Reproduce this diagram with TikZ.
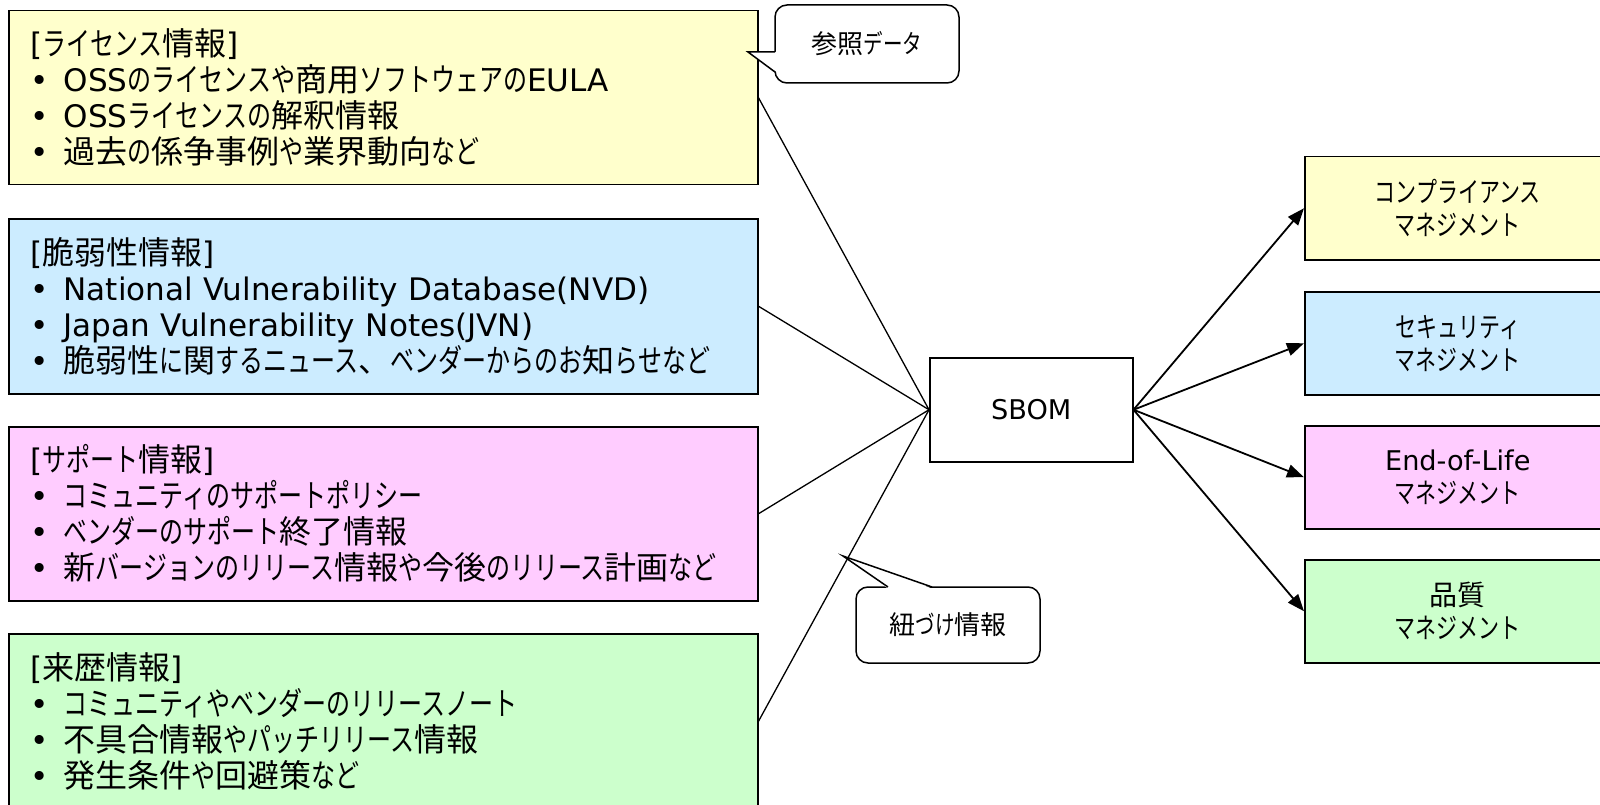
\documentclass[tikz,border=0pt]{standalone}
\usepackage{fontspec}
\setmainfont{Noto Sans CJK JP}
\newfontfamily\hanfont{Noto Sans CJK JP}
\newfontfamily\kanafont[FakeStretch=0.75]{Noto Sans CJK JP}
\newfontfamily\latfont[Scale=0.97]{DejaVu Sans}
\usetikzlibrary{arrows.meta}

% automatic font switching: Latin / kanji / kana
\newXeTeXintercharclass\HanClass
\newXeTeXintercharclass\KanaClass
\count255="3000
\loop \XeTeXcharclass\count255=\HanClass
  \ifnum\count255<"303F \advance\count255 by 1 \repeat
\count255="4E00
\loop \XeTeXcharclass\count255=\HanClass
  \ifnum\count255<"9FFF \advance\count255 by 1 \repeat
\count255="FF00
\loop \XeTeXcharclass\count255=\HanClass
  \ifnum\count255<"FFEF \advance\count255 by 1 \repeat
\count255="3040
\loop \XeTeXcharclass\count255=\KanaClass
  \ifnum\count255<"30FF \advance\count255 by 1 \repeat
\XeTeXinterchartoks 0 \HanClass = {\hanfont}
\XeTeXinterchartoks 4095 \HanClass = {\hanfont}
\XeTeXinterchartoks \KanaClass \HanClass = {\hanfont}
\XeTeXinterchartoks 0 \KanaClass = {\kanafont}
\XeTeXinterchartoks 4095 \KanaClass = {\kanafont}
\XeTeXinterchartoks \HanClass \KanaClass = {\kanafont}
\XeTeXinterchartoks \HanClass 0 = {\latfont}
\XeTeXinterchartoks \KanaClass 0 = {\latfont}
\XeTeXinterchartoks 4095 0 = {\latfont}

\definecolor{licfill}{HTML}{FFFFCC}
\definecolor{vulfill}{HTML}{CCECFF}
\definecolor{supfill}{HTML}{FFCCFF}
\definecolor{hisfill}{HTML}{CCFFCC}

% bullet item with a fixed indent
\newcommand{\itm}[1]{\makebox[33pt][l]{•}#1}

\begin{document}
\XeTeXinterchartokenstate=1
\begin{tikzpicture}[x=1pt,y=-1pt,
  infobox/.style={draw, line width=1.5pt, anchor=north west,
    text width=705pt, minimum width=749pt, inner xsep=22pt, inner ysep=0pt,
    align=left, font=\fontsize{32pt}{36pt}\selectfont},
  mgmtbox/.style={draw, line width=1.5pt, anchor=north west,
    minimum width=306pt, minimum height=103pt, align=center,
    font=\fontsize{28pt}{33pt}\selectfont},
  sbombox/.style={draw, line width=1.5pt, fill=white, anchor=north west,
    minimum width=203pt, minimum height=104pt, font=\fontsize{28pt}{33pt}\selectfont},
  callout/.style={draw, line width=1.5pt, fill=white, rounded corners=12pt,
    minimum width=184pt, font=\fontsize{26pt}{30pt}\selectfont},
  link/.style={line width=1.3pt},
  flow/.style={line width=1.8pt, -{Triangle[length=17pt,width=13pt]}}
]
\useasboundingbox (0,0) rectangle (1600,805);
\clip (0,0) rectangle (1600,805);

% information sources
\node[infobox, fill=licfill, minimum height=174pt] (lic) at (8,10)
  {[ライセンス情報]\\
   \itm{OSSのライセンスや商用ソフトウェアのEULA}\\
   \itm{OSSライセンスの解釈情報}\\
   \itm{過去の係争事例や業界動向など}};
\node[infobox, fill=vulfill, minimum height=175pt] (vul) at (8,218)
  {[脆弱性情報]\\
   \itm{National Vulnerability Database(NVD)}\\
   \itm{Japan Vulnerability Notes(JVN)}\\
   \itm{脆弱性に関するニュース、ベンダーからのお知らせなど}};
\node[infobox, fill=supfill, minimum height=174pt] (sup) at (8,426)
  {[サポート情報]\\
   \itm{コミュニティのサポートポリシー}\\
   \itm{ベンダーのサポート終了情報}\\
   \itm{新バージョンのリリース情報や今後のリリース計画など}};
\node[infobox, fill=hisfill, minimum height=175pt] (his) at (8,633)
  {[来歴情報]\\
   \itm{コミュニティやベンダーのリリースノート}\\
   \itm{不具合情報やパッチリリース情報}\\
   \itm{発生条件や回避策など}};

% management areas
\node[mgmtbox, fill=licfill] (cmp) at (1304,156) {コンプライアンス\\マネジメント};
\node[mgmtbox, fill=vulfill] (sec) at (1304,291) {セキュリティ\\マネジメント};
\node[mgmtbox, fill=supfill] (eol) at (1304,425) {End-of-Life\\マネジメント};
\node[mgmtbox, fill=hisfill] (qua) at (1304,559) {品質\\マネジメント};

% central SBOM
\node[sbombox] (sbom) at (929,357) {SBOM};

% sources linked to the SBOM
\draw[link] (lic.east) -- (sbom.west);
\draw[link] (vul.east) -- (sbom.west);
\draw[link] (sup.east) -- (sbom.west);
\draw[link] (his.east) -- (sbom.west);

% SBOM feeding each management area
\draw[flow] (sbom.east) -- (cmp.west);
\draw[flow] (sbom.east) -- (sec.west);
\draw[flow] (sbom.east) -- (eol.west);
\draw[flow] (sbom.east) -- (qua.west);

% callout: reference data
\node[callout, minimum height=78pt] (ref) at (867,44) {参照データ};
\coordinate (reftip) at (748,52);
\fill[white] (776.5,52) -- (reftip) -- (776.5,72) -- cycle;
\draw[line width=1.5pt, line join=miter] (775,52) -- (reftip) -- (775,72);

% callout: linking information
\node[callout, minimum height=76pt] (lnk) at (948,625) {紐づけ情報};
\coordinate (lnktip) at (843,556);
\fill[white] (888,588.5) -- (lnktip) -- (932,588.5) -- cycle;
\draw[line width=1.5pt, line join=miter] (888,587) -- (lnktip) -- (932,587);
\end{tikzpicture}
\end{document}
